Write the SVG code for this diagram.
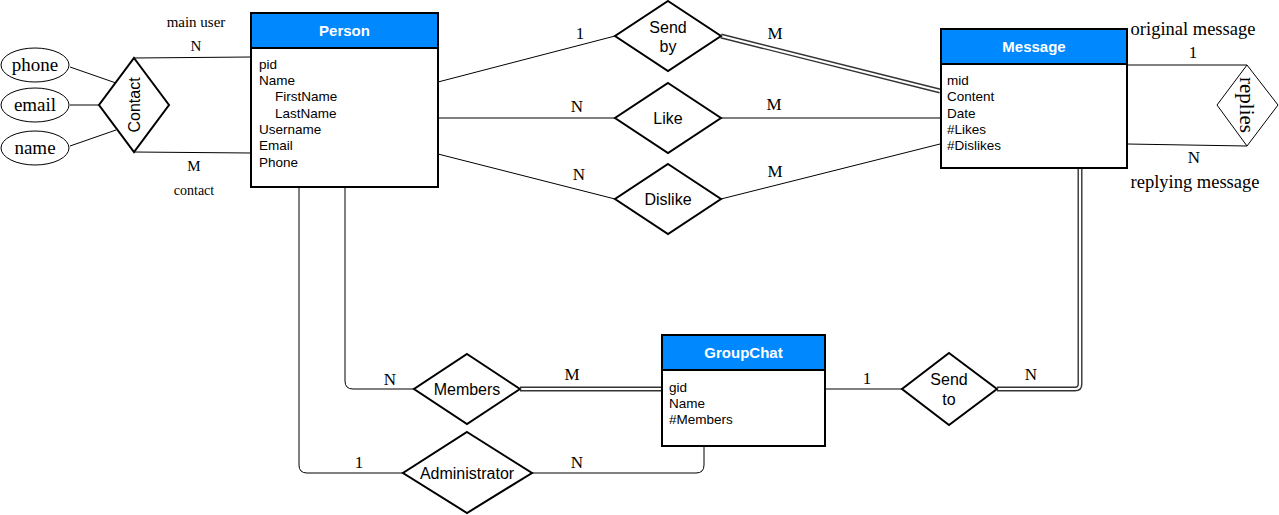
<svg xmlns="http://www.w3.org/2000/svg" width="1279" height="515" viewBox="0 0 1279 515">
<style>
.ent{fill:#fff;stroke:#000;stroke-width:2}
.hdr{fill:#0088ff;stroke:#000;stroke-width:2}
.ttl{font-family:"Liberation Sans",Arial,sans-serif;font-size:15px;fill:#fff;text-anchor:middle;font-weight:bold}
.att{font-family:"Liberation Sans",Arial,sans-serif;font-size:13.5px;fill:#000}
.rel{fill:#fff;stroke:#000;stroke-width:2}
.rtx{font-family:"Liberation Sans",Arial,sans-serif;font-size:16px;fill:#000;text-anchor:middle}
.ser{font-family:"Liberation Serif","Times New Roman",serif;fill:#000;text-anchor:middle}
.ln{fill:none;stroke:#000;stroke-width:1}
.dbo{fill:none;stroke:#333;stroke-width:5}
.dbi{fill:none;stroke:#fff;stroke-width:2.2}
</style>
<g id="connectors">
<path class="ln" d="M70,67 L116,83"/>
<path class="ln" d="M70,105 L99,105"/>
<path class="ln" d="M70,146 L116,130"/>
<path class="ln" d="M134,58 L251,57"/>
<path class="ln" d="M134,152 L251,153"/>
<path class="ln" d="M438,82 L615,36"/>
<path class="dbo" d="M721,36 L940,91"/><path class="dbi" d="M721,36 L940,91"/>
<path class="ln" d="M438,118 L615,118"/>
<path class="ln" d="M721,118 L940,118"/>
<path class="ln" d="M438,154 L615,199"/>
<path class="ln" d="M721,199 L940,144"/>
<path class="ln" d="M1127,65 L1247,65"/>
<path class="ln" d="M1127,144 L1247,146"/>
<path class="dbo" d="M1080,168 L1080,384 Q1080,389 1075,389 L997,389"/><path class="dbi" d="M1080,168 L1080,384 Q1080,389 1075,389 L997,389"/>
<path class="ln" d="M825,389 L902,389"/>
<path class="ln" d="M345,187 L345,381 Q345,389 353,389 L414,389"/>
<path class="dbo" d="M520,389 L662,389"/><path class="dbi" d="M520,389 L662,389"/>
<path class="ln" d="M299,187 L299,465 Q299,473 307,473 L403,473"/>
<path class="ln" d="M532,473 L696,473 Q704,473 704,465 L704,446"/>
</g>
<g id="labels">
<text class="ser" x="196" y="27" font-size="15">main user</text>
<text class="ser" x="196" y="51" font-size="15">N</text>
<text class="ser" x="194" y="171" font-size="15">M</text>
<text class="ser" x="194" y="195" font-size="14">contact</text>
<text class="ser" x="580" y="39" font-size="17">1</text>
<text class="ser" x="775" y="39" font-size="17">M</text>
<text class="ser" x="577" y="112" font-size="17">N</text>
<text class="ser" x="774" y="110" font-size="17">M</text>
<text class="ser" x="579" y="180" font-size="17">N</text>
<text class="ser" x="775" y="177" font-size="17">M</text>
<text class="ser" x="1193" y="35" font-size="18.5">original message</text>
<text class="ser" x="1193" y="58" font-size="17">1</text>
<text class="ser" x="1194" y="163" font-size="17">N</text>
<text class="ser" x="1195" y="188" font-size="18.5">replying message</text>
<text class="ser" x="867" y="384" font-size="17">1</text>
<text class="ser" x="1031" y="380" font-size="17">N</text>
<text class="ser" x="390" y="385" font-size="17">N</text>
<text class="ser" x="572" y="380" font-size="17">M</text>
<text class="ser" x="359" y="468" font-size="17">1</text>
<text class="ser" x="577" y="468" font-size="17">N</text>
</g>
<g id="phone"><ellipse cx="35" cy="65" rx="34" ry="17" fill="#fff" stroke="#000"/><text class="ser" x="35" y="71" font-size="19">phone</text></g>
<g id="email"><ellipse cx="35" cy="105" rx="34" ry="17" fill="#fff" stroke="#000"/><text class="ser" x="35" y="111" font-size="19">email</text></g>
<g id="name"><ellipse cx="35" cy="148" rx="34" ry="17" fill="#fff" stroke="#000"/><text class="ser" x="35" y="154" font-size="19">name</text></g>
<g id="contact"><path class="rel" d="M134,58 L169,105 L134,152 L99,105 Z"/><text class="rtx" transform="translate(140,105) rotate(-90)" x="0" y="0" font-size="16">Contact</text></g>
<g id="person">
<rect class="ent" x="251" y="13" width="187" height="174"/>
<rect class="hdr" x="251" y="13" width="187" height="35"/>
<text class="ttl" x="344.5" y="36">Person</text>
<text class="att" x="259" y="69">pid</text>
<text class="att" x="259" y="85">Name</text>
<text class="att" x="275" y="101">FirstName</text>
<text class="att" x="275" y="118">LastName</text>
<text class="att" x="259" y="134">Username</text>
<text class="att" x="259" y="150">Email</text>
<text class="att" x="259" y="167">Phone</text>
</g>
<g id="sendby"><path class="rel" d="M668,1 L721,36 L668,71 L615,36 Z"/><text class="rtx" x="668" y="33">Send</text><text class="rtx" x="668" y="52">by</text></g>
<g id="like"><path class="rel" d="M668,83 L721,118 L668,153 L615,118 Z"/><text class="rtx" x="668" y="124">Like</text></g>
<g id="dislike"><path class="rel" d="M668,164 L721,199 L668,234 L615,199 Z"/><text class="rtx" x="668" y="205">Dislike</text></g>
<g id="message">
<rect class="ent" x="941" y="29" width="186" height="139"/>
<rect class="hdr" x="941" y="29" width="186" height="35"/>
<text class="ttl" x="1034" y="52">Message</text>
<text class="att" x="947" y="85">mid</text>
<text class="att" x="947" y="101">Content</text>
<text class="att" x="947" y="118">Date</text>
<text class="att" x="947" y="134">#Likes</text>
<text class="att" x="947" y="150">#Dislikes</text>
</g>
<g id="replies"><path d="M1247,65 L1278,105 L1247,146 L1217,105 Z" fill="#fff" stroke="#000" stroke-width="1"/><text class="ser" transform="translate(1240,105) rotate(90)" x="0" y="0" font-size="21">replies</text></g>
<g id="groupchat">
<rect class="ent" x="662" y="335" width="163" height="111"/>
<rect class="hdr" x="662" y="335" width="163" height="35"/>
<text class="ttl" x="743.5" y="358">GroupChat</text>
<text class="att" x="669" y="392">gid</text>
<text class="att" x="669" y="408">Name</text>
<text class="att" x="669" y="424">#Members</text>
</g>
<g id="sendto"><path class="rel" d="M949,353 L997,389 L949,425 L902,389 Z"/><text class="rtx" x="949" y="385">Send</text><text class="rtx" x="949" y="405">to</text></g>
<g id="members"><path class="rel" d="M467,354 L520,389 L467,424 L414,389 Z"/><text class="rtx" x="467" y="395">Members</text></g>
<g id="administrator"><path class="rel" d="M467,432 L532,473 L467,513 L403,473 Z"/><text class="rtx" x="467" y="479">Administrator</text></g>
</svg>
